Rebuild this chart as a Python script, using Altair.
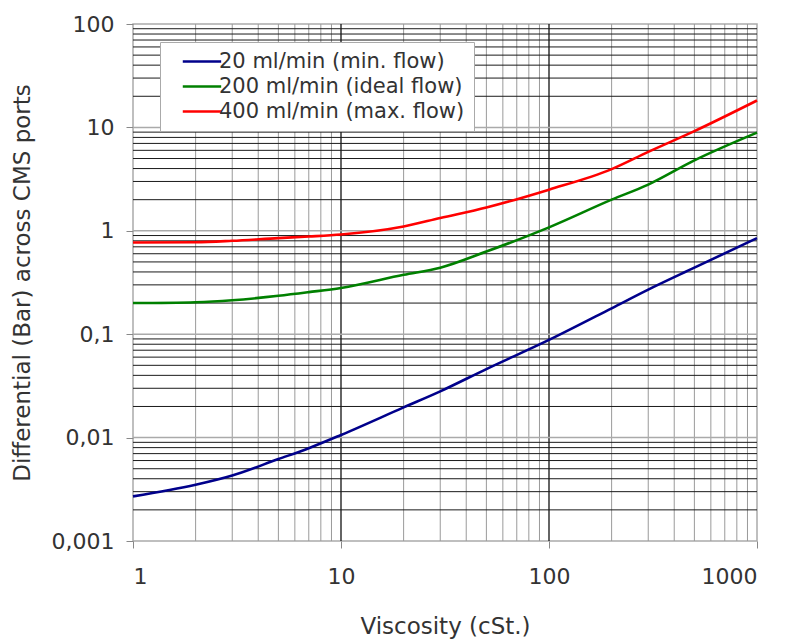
import altair as alt
import pandas as pd

# Viscosity (cSt.)
visc = [1, 2, 3, 5, 7, 10, 20, 30, 50, 100, 200, 300, 500, 1000]
flow_20 = [0.0027, 0.0035, 0.0043, 0.0062, 0.0079, 0.0106, 0.0196, 0.028, 0.046, 0.088, 0.178, 0.27, 0.44, 0.85]
flow_200 = [0.20, 0.204, 0.213, 0.235, 0.255, 0.28, 0.375, 0.44, 0.63, 1.08, 2.0, 2.8, 4.8, 8.9]
flow_400 = [0.77, 0.775, 0.80, 0.85, 0.88, 0.92, 1.10, 1.33, 1.68, 2.5, 3.95, 5.8, 9.2, 18.2]

series_names = ["\u00a0\u00a020 ml/min (min. flow)", "200 ml/min (ideal flow)", "400 ml/min (max. flow)"]
series_colors = ["#00008B", "#008000", "#FF0000"]

x_ticks = [1, 10, 100, 1000]
y_ticks = [0.001, 0.01, 0.1, 1, 10, 100]

# grid values
x_minor = [m * d for d in [1, 10, 100] for m in range(2, 10)]
x_major = [10, 100]
y_minor = [m * d for d in [0.001, 0.01, 0.1, 1, 10] for m in range(2, 10)]
y_major = [0.01, 0.1, 1, 10]

rows = []
for name, vals in zip(series_names, [flow_20, flow_200, flow_400]):
    for v, p in zip(visc, vals):
        rows.append({"visc": v, "dp": p, "series": name})
df = pd.DataFrame(rows)

xscale = alt.Scale(type="log", domain=[1, 1000], nice=False)
yscale = alt.Scale(type="log", domain=[0.001, 100], nice=False)

FONT = "DejaVu Sans"
TXT = "#333333"

xaxis = alt.Axis(
    title="Viscosity (cSt.)",
    values=x_ticks,
    labelExpr="format(datum.value, 'd')",
    grid=False,
    domain=False,
    tickColor="#888888",
    tickSize=7,
    labelPadding=18,
    labelFontSize=22,
    labelFont=FONT,
    labelColor=TXT,
    titleFont=FONT,
    titleFontSize=23,
    titleFontWeight="normal",
    titleColor=TXT,
    titlePadding=28,
)
yaxis = alt.Axis(
    title="Differential (Bar) across CMS ports",
    values=y_ticks,
    labelExpr="replace(format(datum.value, '~g'), '.', ',')",
    grid=False,
    domain=False,
    tickColor="#888888",
    tickSize=7,
    labelPadding=12,
    labelFontSize=22,
    labelFont=FONT,
    labelColor=TXT,
    titleFont=FONT,
    titleFontSize=23,
    titleFontWeight="normal",
    titleColor=TXT,
    titlePadding=17,
)

X = lambda: alt.X("visc:Q", scale=xscale, axis=xaxis)
Y = lambda: alt.Y("dp:Q", scale=yscale, axis=yaxis)

vgrid_minor = alt.Chart(pd.DataFrame({"visc": x_minor})).mark_rule(
    color="#9a9a9a", strokeWidth=1
).encode(x=X())
vgrid_major = alt.Chart(pd.DataFrame({"visc": x_major})).mark_rule(
    color="#111111", strokeWidth=1.3
).encode(x=X())
hgrid_minor = alt.Chart(pd.DataFrame({"dp": y_minor})).mark_rule(
    color="#1a1a1a", strokeWidth=1
).encode(y=Y())
hgrid_major = alt.Chart(pd.DataFrame({"dp": y_major})).mark_rule(
    color="#aaaaaa", strokeWidth=1.5
).encode(y=Y())

lines = alt.Chart(df).mark_line(strokeWidth=2.6, interpolate="monotone").encode(
    x=X(),
    y=Y(),
    color=alt.Color(
        "series:N",
        scale=alt.Scale(domain=series_names, range=series_colors),
        legend=alt.Legend(
            title=None,
            orient="none",
            legendX=27,
            legendY=18,
            symbolType="M0.41,0H5.21",
            symbolSize=256,
            symbolStrokeWidth=2.6,
            labelFont=FONT,
            labelFontSize=21,
            labelColor=TXT,
            labelLimit=0,
            labelOffset=29,
            rowPadding=3,
            padding=9,
            fillColor="white",
            strokeColor="#aaaaaa",
        ),
    ),
)

chart = alt.layer(vgrid_minor, vgrid_major, hgrid_minor, hgrid_major, lines).properties(
    width=624,
    height=517,
    autosize=alt.AutoSizeParams(type="none"),
    padding={"left": 125, "top": 16, "right": 20, "bottom": 98},
).configure_view(stroke="#aaaaaa", strokeWidth=1.5)

chart.save("out.html", embed_options={"renderer": "svg", "actions": False})
